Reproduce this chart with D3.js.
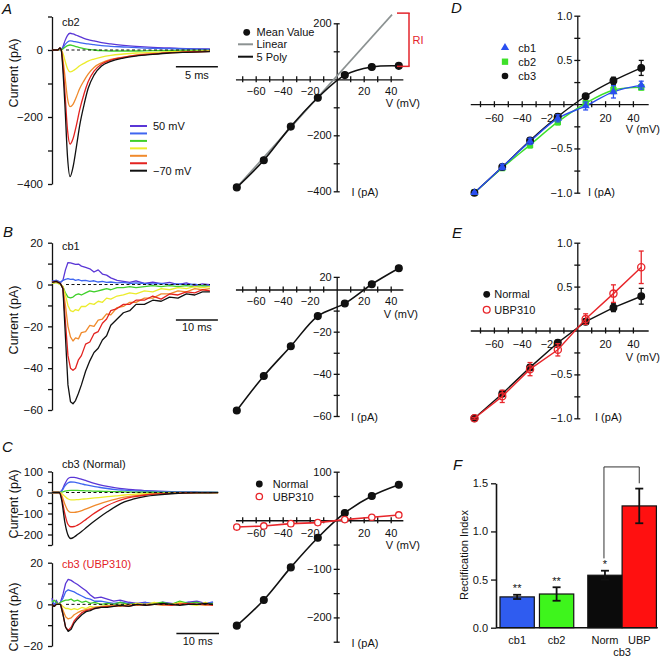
<!DOCTYPE html>
<html><head><meta charset="utf-8">
<script src="https://cdn.jsdelivr.net/npm/d3@7/dist/d3.min.js"></script>
<style>
body{margin:0;background:#fff}
svg{display:block;font-family:"Liberation Sans",Arial,Helvetica,sans-serif}
</style></head><body>
<svg id="c" width="661" height="657"></svg>
<script>
// ---------------- DATA ----------------
const stepLabels = ["50 mV", "", "", "", "", "", "\u221270 mV"];
const traceColors = ["#5a36d6", "#3f66f0", "#3fd02a", "#ecec2c", "#f08a2c", "#e3221f", "#111111"];

// Panel A traces (cb2), time in ms, current in pA
const aT    = [0,0.7,0.95,1.1,1.3,1.55,1.85,2.15,2.5,2.9,3.3,3.8,4.3,5.0,5.9,7.0,8.5,10,12,14,16,18.8];
const aI50  = [0,0,2,0,10,28,44,50,48,44,40,35,31,27,22,18,14,11,8,6,4,3];
const aI30  = [0,0,2,0,6,16,24,27,26,24,22,20,18,16,13,11,9,7,5,4,3,2];
const aI10  = [0,0,2,0,3,8,13,15,13,10,7,4,2,0,-2,-3,-3,-3,-2,-2,-1,-1];
const aIm10 = [0,0,3,0,-10,-32,-56,-65,-62,-55,-47,-40,-33,-27,-21,-16,-12,-9,-7,-5,-4,-3];
const aIm30 = [0,0,5,0,-28,-80,-145,-169,-162,-140,-115,-92,-72,-52,-38,-28,-21,-15,-11,-8,-6,-4];
const aIm50 = [0,0,6,0,-45,-130,-240,-281,-265,-225,-178,-132,-95,-63,-42,-30,-22,-16,-12,-8,-6,-4];
const aIm70 = [0,0,6,0,-60,-170,-320,-378,-350,-290,-225,-165,-115,-75,-48,-34,-24,-18,-13,-9,-7,-5];

// Panel B traces (cb1)
const bT    = [0,1,2,2.6,3.2,3.8,4.4,5,5.6,6.3,7,8,9,10,11,12,13,14,15.5,17,18.5,20,22,24,26,28,30,32,34,35.8,37.6];
const bI50  = [1.5,2,1,2,7,10.5,10.4,10,9.6,9.8,8.8,8.2,7.5,6,7,5,4.5,3.2,2,1.5,1,1.8,0.5,1.2,0.4,1,0,0.8,-0.5,0.3,0];
const bI30  = [1.5,2,1,2,2.5,2.8,2.5,2.6,2,2.3,1.8,2,1.5,1.8,1.2,1.5,1,1.2,0.8,1,0.5,0.8,0.5,0.3,0.5,0,0.3,0,0.2,-0.5,-0.5];
const bI10  = [0.5,1,0,-1,-4,-6,-6.4,-6,-5,-4.5,-5,-4,-3,-3.5,-3,-2.5,-2,-2.5,-1.5,-1.5,-1,-1.5,-1,-0.5,-1,-0.5,-1,-0.5,-1,-0.5,-1];
const bIm10 = [0.5,1,0,-1,-5,-10,-12.5,-13,-12,-12.5,-10.5,-10.5,-9,-9.5,-8,-8.5,-6.5,-7,-5.5,-5,-4,-4.5,-3,-3.5,-2,-2.5,-1.5,-2,-1,-1.5,-1];
const bIm30 = [1,1.5,0.5,-1.5,-10,-20,-25,-27,-25.5,-26,-23,-22.5,-19.5,-20,-17,-16.5,-14,-14.5,-11,-10.5,-8.5,-8.5,-6.5,-6.5,-4.5,-4.5,-3,-3.5,-2,-2.5,-2];
const bIm50 = [1,1.5,0.5,-2,-18,-34,-40,-41,-40,-36,-34,-28.5,-27.5,-23.5,-22.5,-18.5,-16.5,-12.5,-11.5,-9.5,-9.5,-7.5,-7.5,-5.5,-7,-4.5,-5,-3.5,-4,-2.5,-3];
const bIm70 = [1,1.5,0.5,-2,-25,-48,-56,-57,-55.5,-52,-48,-41.5,-36.5,-32.5,-30.5,-26.5,-24.5,-19.5,-16.5,-13.5,-12.5,-9.5,-9.5,-7.5,-8,-6,-6.5,-4.5,-5,-3.5,-3.5];

// Panel C traces, cb3 (Normal)
const cT    = [0,1,1.7,2.3,3,3.7,4.4,5.2,6,7,8,9.5,11,13,15,17,19,22,25,28,31,35,39];
const cI50  = [0,0,0,10,40,65,72,72,69,63,56,46,38,29,22,17,13,9,6,4,3,2,1];
const cI30  = [0,0,0,8,30,45,50,49,46,41,36,30,25,19,14,11,8,6,4,3,2,1,1];
const cI10  = [0,0,0,2,6,9,10,10,10,9,8,7,6,5,4,3,2,1.5,1,0.5,0.3,0,0];
const cIm10 = [0,0,0,-5,-18,-30,-35,-35,-34,-32,-30,-27,-24,-20,-16,-12,-9,-6,-4,-3,-2,-1,-1];
const cIm30 = [0,0,0,-15,-55,-85,-95,-95,-92,-86,-78,-66,-55,-42,-31,-22,-16,-10,-6,-4,-2,-1,-1];
const cIm50 = [0,0,0,-30,-100,-150,-163,-162,-155,-143,-128,-105,-85,-62,-44,-30,-21,-12,-7,-4,-2,-1,-1];
const cIm70 = [0,0,0,-40,-140,-200,-219,-212,-200,-185,-168,-143,-120,-92,-66,-45,-32,-18,-11,-6,-3,-2,-1];

// Panel C traces, cb3 (UBP310)
const cuT    = [0,0.5,1,1.5,2,2.6,3.2,3.8,4.5,5.2,6,7,8,9,10,11.5,13,14.5,16,18,20,22,24,26,28,30,32,34,36,37.8];
const cuI50  = [3,-1,2,0,1,5,10,12,11.5,10.5,9.5,8,6.5,4.5,3,3.5,2.5,1.5,2,1,0.5,1,0,1,0.5,0,1,1.5,0.5,1];
const cuI30  = [2,0,1,0,1,3,6,7,6.5,6,5,4,3,2.5,1.5,1.5,1,0.5,1,0.5,0,0.8,0.3,1,0,0.5,1,0,0.5,1];
const cuI10  = [1,2,1,0,1,1.5,2,2,2.5,1.5,2,1,1.5,0.5,1,0,0.5,0,1,0,0.5,-0.5,0.5,1,0,1.5,0.5,1,0,0.5];
const cuIm10 = [0,-1,0,0,0,-1,-2,-2,-2.5,-2,-2.5,-1.5,-2,-1,-1.5,-1,-0.5,-1,0,-0.5,0.5,0,1,0,-0.5,1,0,-0.5,1,-0.5];
const cuIm30 = [0,-1,0,0,0,-3,-6,-7,-6.5,-5,-4,-3,-2.5,-2,-1.5,-1,-1,-0.5,-1,0,-0.5,0,0,-0.5,0,0.5,0,0,-0.5,0];
const cuIm50 = [0,-1,0,0,0,-5,-11,-12.5,-11,-8,-6,-4,-3,-2.5,-2,-1.5,-1,-1,-0.5,-1,0,-0.5,0,0,-0.5,0,0.5,0,0,-0.5];
const cuIm70 = [0,-1,0,0,0,-5,-11,-13,-12,-9,-7,-5,-3.5,-3,-2,-1.5,-1.5,-1,-0.5,-1,0,-0.5,0,0.5,0,-0.5,0,0,0.5,0];

// I-V data (holding potentials, mV)
const ivV = [-74,-54,-34,-14,6,26,46];
const aIV = [-386,-289,-169,-66,15,44,48];
const aLinV = [-74, 41];
const aLinI = [-386, 231];
const bIV = [-57.4,-41,-26.9,-12.6,-6.6,2.5,10.1];
const cNormIV = [-217,-164,-97,-36,15,50,73];
const cUbpIV  = [-14,-11.7,-7,-4.8,1.4,6.2,11];

// Panel D normalized I-V
const dCb1 = [-1,-0.71,-0.42,-0.16,-0.02,0.14,0.215];
const dCb1Err = [0.01,0.03,0.035,0.04,0.045,0.07,0.045];
const dCb2 = [-1,-0.72,-0.46,-0.2,0.01,0.16,0.19];
const dCb2Err = [0.01,0.03,0.035,0.035,0.03,0.04,0.03];
const dCb3 = [-1,-0.71,-0.41,-0.14,0.09,0.265,0.41];
const dCb3Err = [0.01,0.02,0.03,0.03,0.02,0.04,0.085];

// Panel E normalized I-V
const eNorm = [-1,-0.72,-0.42,-0.14,0.1,0.26,0.39];
const eNormErr = [0.01,0.03,0.03,0.03,0.03,0.045,0.09];
const eUbp = [-1,-0.75,-0.44,-0.22,0.13,0.42,0.72];
const eUbpErr = [0.01,0.07,0.075,0.07,0.06,0.1,0.185];

// Panel F rectification index
const fCats  = ["cb1","cb2","Norm","UBP"];
const fVals  = [0.32,0.35,0.545,1.265];
const fErr   = [0.022,0.07,0.047,0.18];
const fStars = ["**","**","*",""];
const fColors = ["#2f5cf0","#3ef51c","#0b0b0b","#ff1010"];

// tick values
const ivVTicks = [-70,-60,-50,-40,-30,-20,-10,10,20,30,40];
const ivVLabels = [-60,-40,-20,20,40];

// ---------------- DRAW ----------------
const svg = d3.select("#c");
const K = "#111";
const minus = d => d < 0 ? "\u2212" + Math.abs(d) : String(d);
const f1 = d3.format(".1f");

function text(x, y, s, o = {}) {
  const t = svg.append("text").attr("x", x).attr("y", y).text(s)
    .attr("font-size", o.size || 11).attr("fill", o.fill || K)
    .attr("text-anchor", o.anchor || "start");
  if (o.italic) t.attr("font-style", "italic");
  if (o.rot) t.attr("transform", `rotate(-90,${x},${y})`);
  return t;
}
function styleAxis(g, fs) {
  g.attr("font-family", null).attr("font-size", fs || 11);
  g.selectAll("path.domain").attr("stroke", K).attr("stroke-width", 1.3);
  g.selectAll(".tick line").attr("stroke", K).attr("stroke-width", 1.3);
  g.selectAll(".tick text").attr("fill", K);
}
function seg(x1, y1, x2, y2, c, w, dash) {
  const l = svg.append("line").attr("x1", x1).attr("y1", y1).attr("x2", x2).attr("y2", y2)
    .attr("stroke", c).attr("stroke-width", w);
  if (dash) l.attr("stroke-dasharray", dash);
  return l;
}

// ---- trace panels ----
function tracePanel(t, sets, x, y, ticks, labelled, curve, zeroEnd) {
  const g = svg.append("g").attr("transform", "translate(52,0)")
    .call(d3.axisLeft(y).tickValues(ticks).tickSizeInner(4).tickSizeOuter(0).tickPadding(5)
      .tickFormat(d => labelled.includes(d) ? minus(d) : ""));
  styleAxis(g, 11.5);
  const line = d3.line().x((d, j) => x(t[j])).y(d => y(d)).curve(curve);
  sets.forEach((arr, i) => {
    svg.append("path").datum(arr).attr("d", line).attr("fill", "none")
      .attr("stroke", traceColors[i]).attr("stroke-width", 1.3).attr("stroke-linejoin", "round");
  });
  seg(x(t[0]) + 14, y(0), zeroEnd, y(0), K, 1, "3,2.5");
}

// A
const xA = d3.scaleLinear([0, 5], [52, 94]);
const yA = d3.scaleLinear([-400, 100], [184, 16.5]);
tracePanel(aT, [aI50, aI30, aI10, aIm10, aIm30, aIm50, aIm70], xA, yA,
  [-400,-300,-200,-100,0,100], [-400,-200,0], d3.curveMonotoneX, 210);
seg(xA(14.75), yA(-50), xA(19.75), yA(-50), K, 1.5);
text((xA(14.75) + xA(19.75)) / 2, 79, "5 ms", {anchor: "middle"});
text(62, 26, "cb2");
text(18, 73, "Current (pA)", {rot: true, anchor: "middle", size: 12.5});
traceColors.forEach((c, i) => {
  const yy = 126 + i * 7.45;
  seg(130, yy, 147, yy, c, 2);
  if (stepLabels[i]) text(153, yy + 4, stepLabels[i]);
});

// B
const xB = d3.scaleLinear([0, 10], [52, 94]);
const yB = d3.scaleLinear([-60, 20], [410, 242.7]);
tracePanel(bT, [bI50, bI30, bI10, bIm10, bIm30, bIm50, bIm70], xB, yB,
  [-60,-50,-40,-30,-20,-10,0,10,20], [-60,-40,-20,0,20], d3.curveLinear, 210);
seg(xB(29.5), yB(-17), xB(39.5), yB(-17), K, 1.5);
text((xB(29.5) + xB(39.5)) / 2, 331, "10 ms", {anchor: "middle"});
text(62, 250, "cb1");
text(18, 320, "Current (pA)", {rot: true, anchor: "middle", size: 12.5});

// C top
const xC = d3.scaleLinear([0, 10], [52, 94.6]);
const yC1 = d3.scaleLinear([-250, 100], [545, 471.5]);
tracePanel(cT, [cI50, cI30, cI10, cIm10, cIm30, cIm50, cIm70], xC, yC1,
  [-250,-200,-150,-100,-50,0,50,100], [-200,-100,0,100], d3.curveMonotoneX, 216);
text(62, 467.5, "cb3 (Normal)");
text(18, 504, "Current (pA)", {rot: true, anchor: "middle", size: 12.5});

// C bottom
const yC2 = d3.scaleLinear([-20, 20], [646, 562.7]);
tracePanel(cuT, [cuI50, cuI30, cuI10, cuIm10, cuIm30, cuIm50, cuIm70], xC, yC2,
  [-20,-10,0,10,20], [-20,0,20], d3.curveLinear, 214);
seg(xC(29.2), yC2(-14), xC(39.2), yC2(-14), K, 1.5);
text((xC(29.2) + xC(39.2)) / 2, 645, "10 ms", {anchor: "middle"});
text(62, 568, "cb3 (UBP310)", {fill: "#e3221f"});
text(18, 617, "Current (pA)", {rot: true, anchor: "middle", size: 12.5});

// ---- I-V panels ----
function ivAxes(x, y, yTicks, yFmt, xPad) {
  const gx = svg.append("g").attr("transform", `translate(0,${y(0)})`)
    .call(d3.axisBottom(x).tickValues(ivVTicks).tickSizeInner(3).tickSizeOuter(0).tickPadding(xPad)
      .tickFormat(d => ivVLabels.includes(d) ? minus(d) : ""));
  gx.selectAll(".tick line").attr("y1", -3);
  styleAxis(gx);
  const gy = svg.append("g").attr("transform", `translate(${x(0)},0)`)
    .call(d3.axisLeft(y).tickValues(yTicks).tickSizeInner(3).tickSizeOuter(0).tickPadding(2)
      .tickFormat(yFmt));
  gy.selectAll(".tick line").attr("x1", 3);
  styleAxis(gy);
}
function dots(x, y, vals, r, fill, stroke) {
  svg.append("g").selectAll("circle").data(vals).join("circle")
    .attr("cx", (d, i) => x(ivV[i])).attr("cy", d => y(d)).attr("r", r)
    .attr("fill", fill).attr("stroke", stroke || fill).attr("stroke-width", 1.3);
}
function curveLine(x, y, xs, ys, color, w, curve) {
  svg.append("path").datum(ys)
    .attr("d", d3.line().x((d, i) => x(xs[i])).y(d => y(d)).curve(curve))
    .attr("fill", "none").attr("stroke", color).attr("stroke-width", w);
}
function errBars(x, y, vals, errs, color) {
  vals.forEach((v, i) => {
    const cx = x(ivV[i]);
    seg(cx, y(v - errs[i]), cx, y(v + errs[i]), color, 1.3);
    seg(cx - 2.5, y(v - errs[i]), cx + 2.5, y(v - errs[i]), color, 1.3);
    seg(cx - 2.5, y(v + errs[i]), cx + 2.5, y(v + errs[i]), color, 1.3);
  });
}

// A IV
const xV = d3.scaleLinear([-75, 49], [336.7 - 75 * 1.35, 336.7 + 49 * 1.35]);
const yIA = d3.scaleLinear([-400, 200], [191.3, 23.3]);
ivAxes(xV, yIA, [-400,-300,-200,-100,100,200], d => [200,-200,-400].includes(d) ? minus(d) : "", 5);
curveLine(xV, yIA, aLinV, aLinI, "#8c9292", 1.6, d3.curveLinear);
curveLine(xV, yIA, ivV, aIV, K, 1.6, d3.curveCatmullRom);
dots(xV, yIA, aIV, 3.4, K);
text(420, 107, "V (mV)", {anchor: "end"});
text(351.5, 195.5, "I (pA)");
svg.append("circle").attr("cx", 246.7).attr("cy", 32.3).attr("r", 3.4).attr("fill", K);
text(256.5, 36, "Mean Value");
seg(238, 44.3, 253, 44.3, "#8c9292", 2);
text(256.5, 48, "Linear");
seg(238, 56.7, 253, 56.7, K, 2);
text(256.5, 60.5, "5 Poly");
// RI bracket
const riTop = yIA(aLinI[1]) - 1.5, riBot = yIA(aIV[6]) + 0.5;
seg(409, riTop, 409, riBot, "#e3242b", 1.5);
seg(397, riTop, 409.7, riTop, "#e3242b", 1.5);
seg(397, riBot, 409.7, riBot, "#e3242b", 1.5);
text(412.5, 43.5, "RI", {fill: "#e3242b"});

// B IV
const yIB = d3.scaleLinear([-60, 6], [416, 416 - 66 * 2.108]);
ivAxes(xV, yIB, [-60,-50,-40,-30,-20,-10,6], d => d === 6 ? "20" : ([-60,-40,-20].includes(d) ? minus(d) : ""), 5);
curveLine(xV, yIB, ivV, bIV, K, 1.6, d3.curveCatmullRom);
dots(xV, yIB, bIV, 3.4, K);
text(418, 318, "V (mV)", {anchor: "end"});
text(351, 421, "I (pA)");

// C IV
const yIC = d3.scaleLinear([-250, 100], [641.7, 471.7]);
ivAxes(xV, yIC, [-250,-200,-150,-100,-50,50,100], d => [100,-100,-200].includes(d) ? minus(d) : "", 6);
curveLine(xV, yIC, ivV, cNormIV, K, 1.6, d3.curveCatmullRom);
curveLine(xV, yIC, ivV, cUbpIV, "#e8262b", 1.6, d3.curveLinear);
dots(xV, yIC, cNormIV, 3.4, K);
dots(xV, yIC, cUbpIV, 3.2, "#fff", "#e8262b");
text(420, 549, "V (mV)", {anchor: "end"});
text(351.5, 647, "I (pA)");
svg.append("circle").attr("cx", 259.3).attr("cy", 484).attr("r", 3.4).attr("fill", K);
text(272.7, 488, "Normal");
svg.append("circle").attr("cx", 259.3).attr("cy", 496.5).attr("r", 3.2).attr("fill", "#fff").attr("stroke", "#e8262b").attr("stroke-width", 1.3);
text(272.7, 500.5, "UBP310");

// D
const xD = d3.scaleLinear([-77, 51], [577.3 - 77 * 1.39, 577.3 + 51 * 1.39]);
const yD = d3.scaleLinear([-1, 1], [192.7, 15.7]);
const normTicks = [-1,-0.75,-0.5,-0.25,0.25,0.5,0.75,1];
const normFmt = d => [1,0.5,-0.5,-1].includes(d) ? f1(d) : "";
ivAxes(xD, yD, normTicks, normFmt, 7);
const cB = "#2a4ff0", cG = "#3ee02a";
curveLine(xD, yD, ivV, dCb2, cG, 1.4, d3.curveCatmullRom);
curveLine(xD, yD, ivV, dCb3, K, 1.4, d3.curveCatmullRom);
curveLine(xD, yD, ivV, dCb1, cB, 1.4, d3.curveCatmullRom);
errBars(xD, yD, dCb2, dCb2Err, cG);
svg.append("g").selectAll("path").data(dCb2).join("path")
  .attr("d", d3.symbol(d3.symbolSquare, 40))
  .attr("transform", (d, i) => `translate(${xD(ivV[i])},${yD(d)})`).attr("fill", cG);
errBars(xD, yD, dCb3, dCb3Err, K);
dots(xD, yD, dCb3, 3.3, K);
errBars(xD, yD, dCb1, dCb1Err, cB);
svg.append("g").selectAll("path").data(dCb1).join("path")
  .attr("d", d3.symbol(d3.symbolTriangle, 30))
  .attr("transform", (d, i) => `translate(${xD(ivV[i])},${yD(d)})`).attr("fill", cB);
text(660, 133, "V (mV)", {anchor: "end"});
text(588, 195.5, "I (pA)");
svg.append("path").attr("d", d3.symbol(d3.symbolTriangle, 30)).attr("transform", "translate(505,47.7)").attr("fill", cB);
text(518.3, 51.5, "cb1");
svg.append("path").attr("d", d3.symbol(d3.symbolSquare, 40)).attr("transform", "translate(505,61.7)").attr("fill", cG);
text(518.3, 65.5, "cb2");
svg.append("circle").attr("cx", 505).attr("cy", 76).attr("r", 3.3).attr("fill", K);
text(518.3, 80, "cb3");

// E
const yE = d3.scaleLinear([-1, 1], [418.3, 242.7]);
ivAxes(xD, yE, normTicks, normFmt, 7);
const cR = "#e8262b";
curveLine(xD, yE, ivV, eNorm, K, 1.4, d3.curveLinear);
errBars(xD, yE, eNorm, eNormErr, K);
dots(xD, yE, eNorm, 3.3, K);
curveLine(xD, yE, ivV, eUbp, cR, 1.4, d3.curveLinear);
errBars(xD, yE, eUbp, eUbpErr, cR);
dots(xD, yE, eUbp, 3.6, "none", cR);
text(660, 360.5, "V (mV)", {anchor: "end"});
text(595, 421, "I (pA)");
svg.append("circle").attr("cx", 486.7).attr("cy", 294.3).attr("r", 3.4).attr("fill", K);
text(494.3, 298.3, "Normal");
svg.append("circle").attr("cx", 486.7).attr("cy", 309.7).attr("r", 3.4).attr("fill", "none").attr("stroke", cR).attr("stroke-width", 1.3);
text(494.3, 313.7, "UBP310");

// F
const yF = d3.scaleLinear([0, 1.5], [627.7, 483.3]);
const xF = d3.scaleLinear([0, 1], [500, 534.3]);
const fSlots = [0, 1.15, 2.56, 3.56];
const gF = svg.append("g").attr("transform", "translate(496,0)")
  .call(d3.axisLeft(yF).tickValues([0, 0.5, 1, 1.5]).tickSizeInner(5).tickSizeOuter(0).tickPadding(3).tickFormat(f1));
styleAxis(gF);
gF.selectAll("path.domain").attr("stroke-width", 1.6);
fVals.forEach((v, i) => {
  const x0 = xF(fSlots[i]), x1 = xF(fSlots[i] + 1), cx = (x0 + x1) / 2;
  svg.append("rect").attr("x", x0).attr("y", yF(v)).attr("width", x1 - x0).attr("height", yF(0) - yF(v))
    .attr("fill", fColors[i]).attr("stroke", K).attr("stroke-width", 1.2);
  seg(cx, yF(v - fErr[i]), cx, yF(v + fErr[i]), K, 1.8);
  seg(cx - 4, yF(v - fErr[i]), cx + 4, yF(v - fErr[i]), K, 1.8);
  seg(cx - 4, yF(v + fErr[i]), cx + 4, yF(v + fErr[i]), K, 1.8);
  if (fStars[i]) text(cx, yF(v + fErr[i]) - 2.5, fStars[i], {anchor: "middle", size: 11});
  text(cx, 644, fCats[i], {anchor: "middle"});
});
seg(496, yF(0), xF(4.6), yF(0), K, 1.6);
// significance bracket between Norm and UBP
const bxL = (xF(fSlots[2]) + xF(fSlots[2] + 1)) / 2 - 1, bxR = (xF(fSlots[3]) + xF(fSlots[3] + 1)) / 2;
seg(bxL, yF(1.67), bxR, yF(1.67), "#333", 1);
seg(bxL, yF(1.67), bxL, yF(0.72), "#333", 1);
seg(bxR, yF(1.67), bxR, yF(1.5), "#333", 1);
text((xF(fSlots[2]) + xF(fSlots[3] + 1)) / 2, 655.5, "cb3", {anchor: "middle"});
text(467.5, 555, "Rectification Index", {rot: true, anchor: "middle"});

// panel letters
[["A", 2, 13.5], ["B", 3, 236.5], ["C", 2, 451.5], ["D", 451, 13], ["E", 452, 238], ["F", 453, 470]]
  .forEach(([s, x, y]) => text(x, y, s, {size: 15, italic: true}));
</script>
</body></html>
